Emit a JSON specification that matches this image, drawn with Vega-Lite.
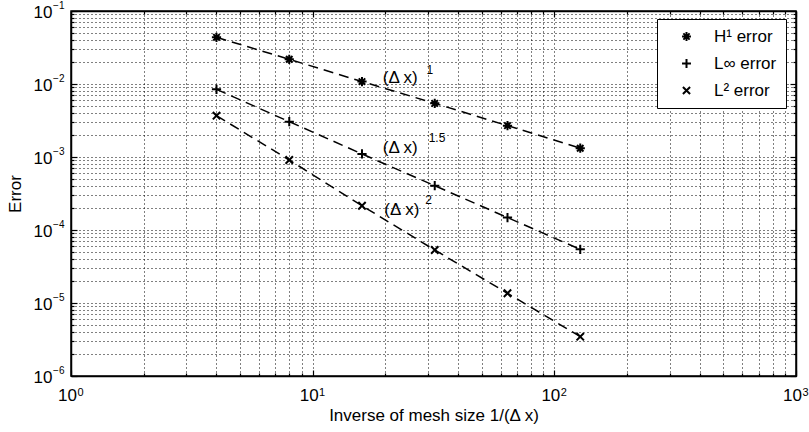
{
  "$schema": "https://vega.github.io/schema/vega-lite/v6.json",
  "width": 725,
  "height": 365,
  "autosize": {"type": "none"},
  "padding": {"left": 71, "top": 11, "right": 13, "bottom": 56},
  "background": "white",
  "config": {
    "view": {"stroke": "black", "strokeWidth": 1.5},
    "font": "Liberation Sans",
    "axis": {
      "domainColor": "black",
      "domainWidth": 1.5,
      "tickColor": "black",
      "tickWidth": 1.2,
      "labelColor": "black",
      "titleColor": "black",
      "labelFont": "Liberation Sans",
      "titleFont": "Liberation Sans",
      "labelFontSize": 17,
      "titleFontSize": 17,
      "titleFontWeight": "normal",
      "labelFlush": false,
      "labelOverlap": false
    },
    "legend": {"labelFont": "Liberation Sans", "labelFontSize": 17, "labelColor": "black"}
  },
  "datasets": {
    "errs": [
      {"n": 4, "err": 0.0436, "s": "H1"},
      {"n": 8, "err": 0.0218, "s": "H1"},
      {"n": 16, "err": 0.0108, "s": "H1"},
      {"n": 32, "err": 0.00543, "s": "H1"},
      {"n": 64, "err": 0.00269, "s": "H1"},
      {"n": 128, "err": 0.00132, "s": "H1"},
      {"n": 4, "err": 0.00845, "s": "Linf"},
      {"n": 8, "err": 0.00305, "s": "Linf"},
      {"n": 16, "err": 0.0011, "s": "Linf"},
      {"n": 32, "err": 0.000404, "s": "Linf"},
      {"n": 64, "err": 0.000148, "s": "Linf"},
      {"n": 128, "err": 0.0000543, "s": "Linf"},
      {"n": 4, "err": 0.00368, "s": "L2"},
      {"n": 8, "err": 0.00091, "s": "L2"},
      {"n": 16, "err": 0.000215, "s": "L2"},
      {"n": 32, "err": 0.0000532, "s": "L2"},
      {"n": 64, "err": 0.0000136, "s": "L2"},
      {"n": 128, "err": 0.00000346, "s": "L2"}
    ],
    "notes": [
      {"n": 19.5, "err": 0.0121, "label": "(Δ x)", "en": 29.6, "ee": 0.0156, "exp": "1"},
      {"n": 19.5, "err": 0.00133, "label": "(Δ x)", "en": 30.2, "ee": 0.00182, "exp": "1.5"},
      {"n": 19.8, "err": 0.000188, "label": "(Δ x)", "en": 29.2, "ee": 0.000258, "exp": "2"}
    ]
  },
  "resolve": {"axis": {"x": "independent", "y": "independent"}},
  "layer": [
    {
      "data": {"name": "errs"},
      "mark": {"type": "line", "color": "black", "strokeWidth": 1.5, "strokeDash": [10, 6]},
      "encoding": {
        "x": {
          "field": "n", "type": "quantitative",
          "scale": {"type": "log", "domain": [1, 1000], "nice": false},
          "axis": {
            "orient": "bottom",
            "title": "Inverse of mesh size 1/(Δ x)",
            "titleY": 39,
            "titleBaseline": "middle",
            "values": [1,2,3,4,5,6,7,8,9,10,20,30,40,50,60,70,80,90,100,200,300,400,500,600,700,800,900,1000],
            "labelExpr": "indexof([1,10,100,1000], datum.value) >= 0 ? '10' : ''",
            "labelOffset": -4,
            "grid": true,
            "gridColor": "black",
            "gridDash": [1, 3],
            "gridOpacity": 1,
            "tickSize": {"condition": {"test": "indexof([1,10,100,1000], datum.value) >= 0", "value": -6}, "value": -3},
            "labelPadding": 17
          }
        },
        "y": {
          "field": "err", "type": "quantitative",
          "scale": {"type": "log", "domain": [0.000001, 0.1], "nice": false},
          "axis": {
            "orient": "left",
            "title": "Error",
            "titleX": -56,
            "titleBaseline": "middle",
            "values": [0.000001,0.000002,0.000003,0.000004,0.000005,0.000006,0.000007,0.000008,0.000009,0.00001,0.00002,0.00003,0.00004,0.00005,0.00006,0.00007,0.00008,0.00009,0.0001,0.0002,0.0003,0.0004,0.0005,0.0006,0.0007,0.0008,0.0009,0.001,0.002,0.003,0.004,0.005,0.006,0.007,0.008,0.009,0.01,0.02,0.03,0.04,0.05,0.06,0.07,0.08,0.09,0.1],
            "labelExpr": "indexof([0.1,0.01,0.001,0.0001,0.00001,0.000001], datum.value) >= 0 ? '10' : ''",
            "labelOffset": 1,
            "grid": true,
            "gridColor": "black",
            "gridDash": [1, 3],
            "gridOpacity": 1,
            "tickSize": {"condition": {"test": "indexof([0.1,0.01,0.001,0.0001,0.00001,0.000001], datum.value) >= 0", "value": -6}, "value": -3},
            "labelPadding": 25
          }
        },
        "detail": {"field": "s"}
      }
    },
    {
      "data": {"name": "errs"},
      "mark": {"type": "point", "filled": false, "stroke": "black", "strokeWidth": 2, "size": 85, "opacity": 1},
      "encoding": {
        "x": {
          "field": "n", "type": "quantitative",
          "axis": {
            "orient": "top", "title": null, "labels": false, "grid": false,
            "values": [1,2,3,4,5,6,7,8,9,10,20,30,40,50,60,70,80,90,100,200,300,400,500,600,700,800,900,1000],
            "tickSize": {"condition": {"test": "indexof([1,10,100,1000], datum.value) >= 0", "value": -6}, "value": -3}
          }
        },
        "y": {
          "field": "err", "type": "quantitative",
          "axis": {
            "orient": "right", "title": null, "labels": false, "grid": false,
            "values": [0.000001,0.000002,0.000003,0.000004,0.000005,0.000006,0.000007,0.000008,0.000009,0.00001,0.00002,0.00003,0.00004,0.00005,0.00006,0.00007,0.00008,0.00009,0.0001,0.0002,0.0003,0.0004,0.0005,0.0006,0.0007,0.0008,0.0009,0.001,0.002,0.003,0.004,0.005,0.006,0.007,0.008,0.009,0.01,0.02,0.03,0.04,0.05,0.06,0.07,0.08,0.09,0.1],
            "tickSize": {"condition": {"test": "indexof([0.1,0.01,0.001,0.0001,0.00001,0.000001], datum.value) >= 0", "value": -6}, "value": -3}
          }
        },
        "shape": {
          "field": "s", "type": "nominal",
          "scale": {
            "domain": ["H1", "Linf", "L2"],
            "range": [
              "M-1,0L1,0M0,-1L0,1M-0.7,-0.7L0.7,0.7M-0.7,0.7L0.7,-0.7",
              "M-1,0L1,0M0,-1L0,1",
              "M-0.8,-0.8L0.8,0.8M-0.8,0.8L0.8,-0.8"
            ]
          },
          "legend": {
            "title": null,
            "orient": "none",
            "legendX": 586,
            "legendY": 8,
            "strokeColor": "black",
            "fillColor": "white",
            "padding": 9,
            "symbolOffset": 12,
            "symbolSize": 80,
            "symbolStrokeColor": "black",
            "symbolStrokeWidth": 2,
            "symbolFillColor": "transparent",
            "labelOffset": 19,
            "rowPadding": 9,
            "labelExpr": "datum.value == 'H1' ? 'H¹ error' : datum.value == 'Linf' ? 'L∞ error' : 'L² error'"
          }
        }
      }
    },
    {
      "data": {"name": "notes"},
      "mark": {"type": "text", "align": "left", "baseline": "middle", "fontSize": 17, "font": "Liberation Sans", "color": "black"},
      "encoding": {
        "x": {
          "field": "n", "type": "quantitative",
          "axis": {
            "orient": "bottom", "title": null, "grid": false, "ticks": false, "tickSize": 0, "domain": false,
            "values": [1, 10, 100, 1000],
            "labelExpr": "format(round(log(datum.value)/LN10), 'd')",
            "labelFontSize": 11,
            "labelOffset": 9,
            "labelPadding": 10
          }
        },
        "y": {
          "field": "err", "type": "quantitative",
          "axis": {
            "orient": "left", "title": null, "grid": false, "ticks": false, "tickSize": 0, "domain": false,
            "values": [0.1, 0.01, 0.001, 0.0001, 0.00001, 0.000001],
            "labelExpr": "format(round(log(datum.value)/LN10), 'd')",
            "labelFontSize": 10,
            "labelOffset": -6,
            "labelPadding": 7
          }
        },
        "text": {"field": "label"}
      }
    },
    {
      "data": {"name": "notes"},
      "mark": {"type": "text", "align": "left", "baseline": "middle", "fontSize": 12, "font": "Liberation Sans", "color": "black"},
      "encoding": {
        "x": {"field": "en", "type": "quantitative", "axis": null},
        "y": {"field": "ee", "type": "quantitative", "axis": null},
        "text": {"field": "exp"}
      }
    }
  ]
}
